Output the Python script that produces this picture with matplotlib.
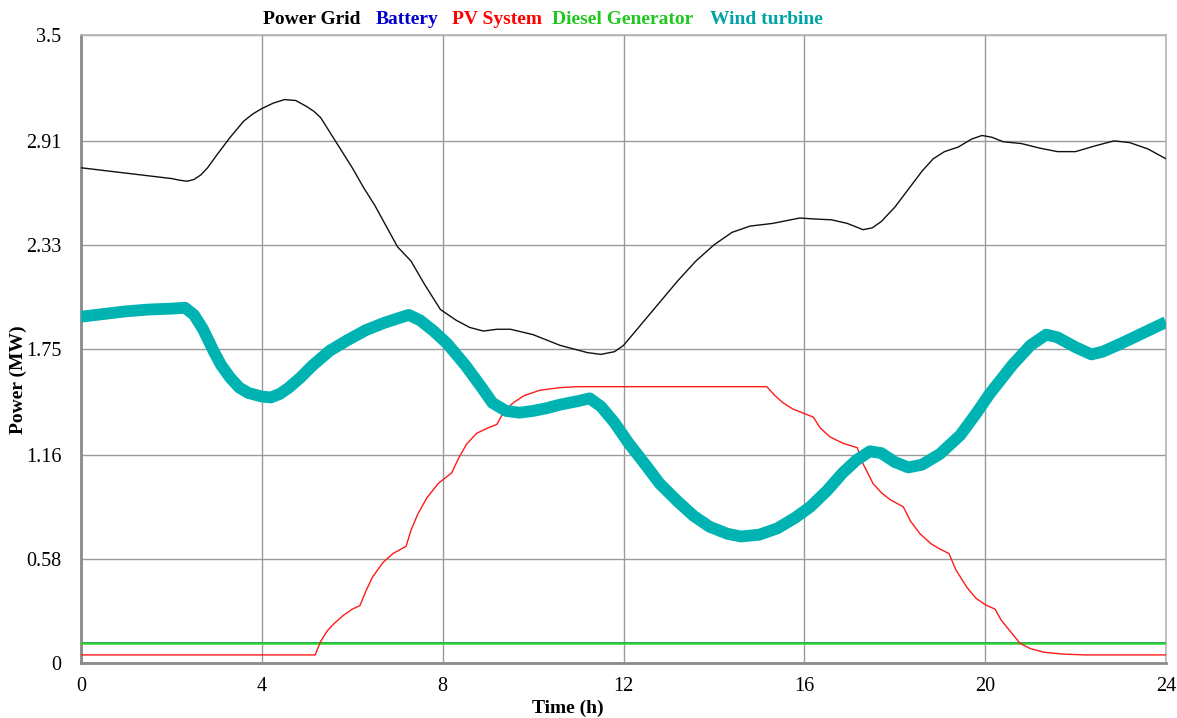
import matplotlib
matplotlib.use("Agg")
import matplotlib.pyplot as plt

# ---- data -------------------------------------------------------------
grid_t = [0, 0.5, 1, 1.5, 2, 2.2, 2.35, 2.5, 2.65, 2.8, 3.0, 3.3, 3.6, 3.8, 4.0,
          4.25, 4.5, 4.75, 5.0, 5.15, 5.3, 5.6, 6.0, 6.25, 6.5, 7.0, 7.3, 7.6,
          7.95, 8.3, 8.6, 8.9, 9.2, 9.5, 10.0, 10.6, 11.2, 11.5, 11.8, 12.0, 12.4,
          12.8, 13.2, 13.6, 14.0, 14.4, 14.8, 15.3, 15.6, 15.9, 16.2, 16.6, 16.95,
          17.15, 17.3, 17.5, 17.7, 18.0, 18.3, 18.6, 18.85, 19.1, 19.4, 19.7,
          19.93, 20.15, 20.4, 20.8, 21.2, 21.6, 22.0, 22.4, 22.85, 23.2, 23.6, 24]
grid_p = [2.76, 2.745, 2.73, 2.715, 2.70, 2.69, 2.685, 2.695, 2.72, 2.76, 2.83,
          2.93, 3.02, 3.06, 3.09, 3.12, 3.14, 3.135, 3.10, 3.075, 3.04, 2.92, 2.76,
          2.65, 2.55, 2.32, 2.24, 2.11, 1.97, 1.91, 1.87, 1.85, 1.86, 1.86, 1.83,
          1.77, 1.73, 1.72, 1.735, 1.77, 1.89, 2.01, 2.13, 2.24, 2.33, 2.40, 2.435,
          2.45, 2.465, 2.48, 2.475, 2.47, 2.45, 2.43, 2.415, 2.425, 2.46, 2.54,
          2.64, 2.74, 2.81, 2.85, 2.875, 2.92, 2.94, 2.93, 2.905, 2.895, 2.87,
          2.85, 2.85, 2.88, 2.91, 2.90, 2.865, 2.81]

wind_t = [0, 0.5, 1, 1.5, 2.0, 2.3, 2.5, 2.7, 2.93, 3.1, 3.3, 3.5, 3.7, 4.0, 4.2,
          4.4, 4.6, 4.85, 5.13, 5.5, 5.9, 6.3, 6.7, 7.0, 7.25, 7.5, 7.8, 8.1, 8.5,
          8.85, 9.1, 9.4, 9.7, 10.0, 10.3, 10.6, 11.0, 11.25, 11.5, 11.8, 12.1,
          12.5, 12.8, 13.2, 13.55, 13.9, 14.3, 14.6, 15.0, 15.4, 15.8, 16.13, 16.5,
          16.85, 17.15, 17.45, 17.7, 18.0, 18.3, 18.6, 19.0, 19.45, 19.8, 20.1,
          20.6, 21.0, 21.35, 21.6, 22.0, 22.35, 22.6, 23.0, 23.5, 24.0]
wind_p = [1.93, 1.945, 1.96, 1.97, 1.975, 1.98, 1.94, 1.86, 1.74, 1.66, 1.59,
          1.535, 1.505, 1.485, 1.48, 1.50, 1.535, 1.59, 1.66, 1.74, 1.80, 1.855,
          1.895, 1.92, 1.94, 1.91, 1.85, 1.78, 1.66, 1.54, 1.45, 1.405, 1.395, 1.405,
          1.42, 1.44, 1.46, 1.475, 1.43, 1.34, 1.23, 1.10, 1.00, 0.90, 0.82, 0.76,
          0.72, 0.705, 0.715, 0.75, 0.81, 0.87, 0.96, 1.06, 1.13, 1.18, 1.17, 1.12,
          1.09, 1.105, 1.165, 1.27, 1.39, 1.50, 1.66, 1.77, 1.83, 1.815, 1.76, 1.72,
          1.735, 1.78, 1.84, 1.90]

pv_t = [0, 5.18, 5.3, 5.45, 5.6, 5.8, 6.0, 6.17, 6.3, 6.45, 6.68, 6.9, 7.19, 7.3,
        7.45, 7.65, 7.9, 8.2, 8.35, 8.53, 8.75, 9.0, 9.2, 9.35, 9.56, 9.8, 10.15,
        10.6, 11.0, 15.17, 15.35, 15.53, 15.75, 16.0, 16.2, 16.35, 16.57, 16.85,
        17.17, 17.3, 17.52, 17.7, 17.9, 18.19, 18.35, 18.56, 18.8, 19.0, 19.2,
        19.35, 19.6, 19.8, 20.0, 20.22, 20.35, 20.48, 20.77, 21.0, 21.3, 21.7,
        22.2, 24]
pv_p = [0.045, 0.045, 0.12, 0.18, 0.22, 0.265, 0.30, 0.32, 0.40, 0.48, 0.56,
        0.61, 0.65, 0.74, 0.83, 0.92, 1.00, 1.06, 1.14, 1.22, 1.28, 1.31, 1.33,
        1.40, 1.45, 1.49, 1.52, 1.535, 1.54, 1.54, 1.49, 1.45, 1.415, 1.39, 1.37,
        1.31, 1.26, 1.225, 1.20, 1.11, 1.00, 0.95, 0.91, 0.87, 0.79, 0.72, 0.665,
        0.635, 0.61, 0.52, 0.42, 0.36, 0.325, 0.30, 0.24, 0.20, 0.11, 0.08, 0.06,
        0.05, 0.045, 0.045]

diesel_t = [0, 24]
diesel_p = [0.112, 0.112]
battery_t = [0, 24]
battery_p = [0.112, 0.112]

y_ticks = [0, 0.58, 1.16, 1.75, 2.33, 2.91, 3.5]
y_tick_labels = ["0", "0.58", "1.16", "1.75", "2.33", "2.91", "3.5"]
x_ticks = [0, 4, 8, 12, 16, 20, 24]

series_names = ["Power Grid", "Battery", "PV System", "Diesel Generator", "Wind turbine"]
series_colors = ["#000000", "#0000cc", "#ff0000", "#1ec81e", "#00a3a3"]

# ---- figure -----------------------------------------------------------
plt.rcParams["font.family"] = ["Liberation Serif", "DejaVu Serif"]
W, H = 1177, 718
fig = plt.figure(figsize=(W / 100, H / 100), dpi=100)
ax = fig.add_axes([81 / W, 1 - 663 / H, (1166 - 81) / W, (663 - 35) / H])

ax.plot(battery_t, battery_p, color="#0000cc", lw=1.2, zorder=2)
ax.plot(diesel_t, diesel_p, color="#2ed42e", lw=1.8, zorder=3)
ax.plot(pv_t, pv_p, color="#ff1a1a", lw=1.0, zorder=4)
ax.plot(wind_t, wind_p, color="#00b3b3", lw=8.5, solid_capstyle="butt",
        solid_joinstyle="round", zorder=5)
ax.plot(grid_t, grid_p, color="#111111", lw=1.0, solid_joinstyle="round", zorder=6)

ax.set_xlim(0, 24)
ax.set_ylim(0, 3.5)
ax.set_xticks(x_ticks)
ax.set_yticks(y_ticks)
ax.set_yticklabels(y_tick_labels)
ax.tick_params(axis="both", length=0, labelsize=14.5)
ax.tick_params(axis="y", pad=14)
ax.tick_params(axis="x", pad=10)
ax.grid(True, color="#9a9a9a", lw=1.0)
ax.set_axisbelow(True)
for side in ("left", "bottom"):
    ax.spines[side].set_color("#8a8a8a")
    ax.spines[side].set_linewidth(2.0)
for side in ("top", "right"):
    ax.spines[side].set_color("#b5b5b5")
    ax.spines[side].set_linewidth(1.2)

fig.text(18 / W, 1 - 380 / H, "Power (MW)", rotation=90, ha="center", va="center",
         fontsize=14, fontweight="bold")
fig.text(568 / W, 1 - 708 / H, "Time (h)", ha="center", va="center",
         fontsize=14, fontweight="bold")

# series key as coloured words across the top
legend_x = [263, 376, 452, 552, 710]
for name, col, px in zip(series_names, series_colors, legend_x):
    fig.text(px / W, 1 - 19 / H, name, color=col, ha="left", va="center",
             fontsize=14, fontweight="bold")

fig.savefig("out.png", dpi=100)
